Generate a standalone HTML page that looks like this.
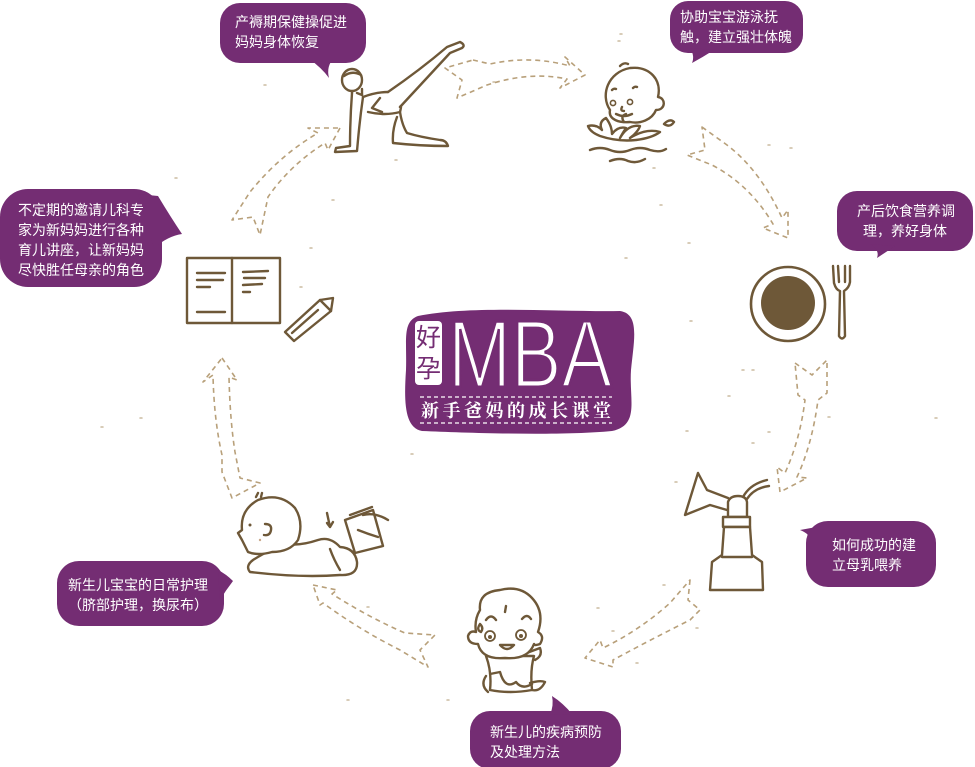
<!DOCTYPE html>
<html>
<head>
<meta charset="utf-8">
<style>
html,body{margin:0;padding:0;background:#fff;}
svg{display:block;}
.b{fill:#742d73;}
.t{fill:#fff;font-family:"Liberation Sans","Noto Sans CJK SC",sans-serif;font-size:14px;}
.ar{fill:none;stroke:#b8a07a;stroke-width:1.6;stroke-dasharray:5 4;stroke-linejoin:round;}
.ln{fill:none;stroke:#6e5838;stroke-width:2.4;stroke-linecap:round;stroke-linejoin:round;}
.lw{fill:#fff;stroke:#6e5838;stroke-width:2.4;stroke-linecap:round;stroke-linejoin:round;}
.sp{stroke:#cbbba0;stroke-width:1.5;stroke-linecap:round;}
</style>
</head>
<body>
<svg width="975" height="767" viewBox="0 0 975 767" xmlns="http://www.w3.org/2000/svg">

<!-- specks -->
<g class="sp">
<line x1="175" y1="178" x2="177" y2="178"/><line x1="332" y1="200" x2="334" y2="200"/><line x1="310" y1="248" x2="312" y2="248"/>
<line x1="101" y1="427" x2="103" y2="427"/><line x1="140" y1="418" x2="142" y2="418"/><line x1="411" y1="454" x2="413" y2="454"/>
<line x1="367" y1="607" x2="369" y2="607"/><line x1="347" y1="700" x2="349" y2="700"/><line x1="597" y1="608" x2="599" y2="608"/>
<line x1="612" y1="631" x2="614" y2="631"/><line x1="636" y1="663" x2="638" y2="663"/><line x1="675" y1="482" x2="677" y2="482"/>
<line x1="690" y1="321" x2="692" y2="321"/><line x1="742" y1="370" x2="744" y2="370"/><line x1="752" y1="370" x2="754" y2="370"/>
<line x1="728" y1="396" x2="730" y2="396"/><line x1="686" y1="431" x2="688" y2="431"/><line x1="752" y1="443" x2="754" y2="443"/>
<line x1="828" y1="417" x2="830" y2="417"/><line x1="935" y1="418" x2="937" y2="418"/><line x1="768" y1="432" x2="770" y2="432"/>
<line x1="768" y1="145" x2="770" y2="145"/><line x1="790" y1="148" x2="792" y2="148"/><line x1="653" y1="168" x2="655" y2="168"/>
<line x1="620" y1="34" x2="622" y2="34"/><line x1="618" y1="41" x2="620" y2="41"/><line x1="493" y1="82" x2="495" y2="82"/>
<line x1="264" y1="85" x2="266" y2="85"/><line x1="395" y1="160" x2="397" y2="160"/><line x1="660" y1="205" x2="662" y2="205"/>
<line x1="688" y1="243" x2="690" y2="243"/><line x1="625" y1="258" x2="627" y2="258"/><line x1="300" y1="287" x2="302" y2="287"/>
<line x1="447" y1="700" x2="449" y2="700"/><line x1="663" y1="585" x2="665" y2="585"/><line x1="696" y1="628" x2="698" y2="628"/>
</g>

<!-- dashed arrows -->
<path class="ar" d="M473,60 L490,64 Q530,55 570,66 L565,57 L585,75 L560,88 L567,79 Q530,71 487,85 L457,98 L462,80 L445,68 Z"/>
<path class="ar" d="M702,127 L727,145 Q760,170 782,218 L788,210 L788,238 L763,228 L773,224 Q750,185 712,165 L687,155 L705,150 Z"/>
<path class="ar" d="M795,363 L812,375 L827,360 L827,393 L818,400 Q812,445 797,477 L807,478 L780,492 L777,467 L785,473 Q800,440 805,400 L798,395 Z"/>
<path class="ar" d="M690,580 L688,600 L700,610 L690,620 Q650,640 613,660 L613,667 L585,658 L600,640 L603,648 Q640,630 670,603 Z"/>
<path class="ar" d="M313,585 L337,590 L332,594 Q370,618 405,633 L435,635 L420,650 L428,667 L400,650 Q360,630 323,603 L320,605 Z"/>
<path class="ar" d="M222,358 L237,380 L229,377 Q230,420 235,452 L240,478 L260,483 L232,498 L222,472 L222,455 Q214,420 213,375 L203,382 Z"/>
<path class="ar" d="M340,128 L328,150 L325,143 Q290,165 268,197 L260,235 L253,217 L232,220 L250,192 Q280,155 318,133 L308,128 Z"/>

<!-- bubbles -->
<rect class="b" x="220" y="3" width="146" height="60" rx="20"/>
<path class="b" d="M308,58 Q322,68 329,78 Q326,66 334,58 Z"/>
<text class="t" x="235" y="27">产褥期保健操促进</text>
<text class="t" x="235" y="47">妈妈身体恢复</text>

<rect class="b" x="670" y="1" width="133" height="52" rx="18"/>
<path class="b" d="M690,48 Q695,56 692,63 Q703,57 714,50 Z"/>
<text class="t" x="680" y="22">协助宝宝游泳抚</text>
<text class="t" x="680" y="42">触，建立强壮体魄</text>

<rect class="b" x="837" y="191" width="136" height="60" rx="20"/>
<path class="b" d="M870,244 Q880,250 877,258 Q886,252 895,246 Z"/>
<text class="t" x="857" y="216">产后饮食营养调</text>
<text class="t" x="863" y="236">理，养好身体</text>

<rect class="b" x="0" y="189" width="162" height="98" rx="28"/>
<path class="b" d="M138,194 L158,196 Q170,216 182,234 Q168,236 154,248 Z"/>
<text class="t" x="18" y="215">不定期的邀请儿科专</text>
<text class="t" x="18" y="235">家为新妈妈进行各种</text>
<text class="t" x="18" y="255">育儿讲座，让新妈妈</text>
<text class="t" x="18" y="275">尽快胜任母亲的角色</text>

<rect class="b" x="806" y="521" width="130" height="66" rx="22"/>
<path class="b" d="M800,530 Q810,534 810,540 L822,526 Z"/>
<text class="t" x="832" y="550">如何成功的建</text>
<text class="t" x="832" y="570">立母乳喂养</text>

<rect class="b" x="57" y="561" width="167" height="65" rx="22"/>
<path class="b" d="M218,570 Q226,574 233,581 Q226,590 220,600 Z"/>
<text class="t" x="68" y="590">新生儿宝宝的日常护理</text>
<text class="t" x="68" y="610">（脐部护理，换尿布）</text>

<rect class="b" x="470" y="711" width="151" height="58" rx="20"/>
<path class="b" d="M550,715 Q554,705 552,696 Q563,703 572,714 Z"/>
<text class="t" x="490" y="737">新生儿的疾病预防</text>
<text class="t" x="490" y="757">及处理方法</text>

<!-- center logo -->
<path class="b" d="M418,316 C470,305 560,312 620,311 C640,314 634,340 631,370 C629,400 640,425 612,431 C560,436 470,433 422,431 C404,428 404,400 406,370 C407,340 402,322 418,316 Z"/>
<rect x="415" y="321" width="27" height="64" rx="4" fill="#fff"/>
<text x="428.5" y="346" text-anchor="middle" fill="#742d73" font-family="'Noto Sans CJK SC',sans-serif" font-size="25">好</text>
<text x="428.5" y="377" text-anchor="middle" fill="#742d73" font-family="'Noto Sans CJK SC',sans-serif" font-size="25">孕</text>
<text x="448" y="387" textLength="164" lengthAdjust="spacingAndGlyphs" fill="#fff" stroke="#742d73" stroke-width="3" font-family="'Liberation Sans',sans-serif" font-size="96">MBA</text>
<line x1="420" y1="397" x2="612" y2="397" stroke="#fff" stroke-width="1.2" stroke-dasharray="4 3"/>
<line x1="420" y1="423" x2="612" y2="423" stroke="#fff" stroke-width="1.2" stroke-dasharray="4 3"/>
<text x="421" y="417" textLength="190" lengthAdjust="spacing" fill="#fff" font-weight="bold" font-family="'Noto Serif CJK SC','Noto Sans CJK SC',serif" font-size="18">新手爸妈的成长课堂</text>

<!-- yoga woman -->
<g>
<path class="ln" d="M388,92 Q420,70 447,47 L460,42 Q466,45 462,48 L450,53 Q425,80 400,107"/>
<path class="ln" d="M363,97 Q376,92 388,92"/>
<path class="ln" d="M368,112 Q385,116 400,112 Q402,104 400,107"/>
<path class="ln" d="M380,98 L372,108 L382,112"/>
<path class="ln" d="M397,117 Q392,130 393,143 Q420,146 448,146 Q446,140 440,140 Q420,137 407,133 Q402,125 400,112"/>
<path class="ln" d="M352,93 Q350,120 350,146 L336,148 L335,152 L357,151 L358,140 Q360,118 363,97"/>
<path class="ln" d="M357,93 L362,95"/>
<path class="ln" d="M352,88 L352,93 M362,89 L362,95"/>
<ellipse class="lw" cx="352" cy="80" rx="10" ry="11"/>
<path class="ln" d="M344,76 Q352,70 361,75"/>
</g>

<!-- swimming baby -->
<g>
<path class="lw" d="M610,110 C600,95 608,72 630,68 C650,66 662,80 658,97 C666,98 666,110 656,110 C652,120 640,124 630,122 C620,123 608,120 610,110 Z"/>
<path class="ln" d="M620,66 Q624,62 628,64" stroke-width="1.6"/>
<circle cx="613" cy="103" r="2.6" fill="none" stroke="#6e5838" stroke-width="1.6"/>
<circle cx="630" cy="102" r="2.6" fill="none" stroke="#6e5838" stroke-width="1.6"/>
<path class="ln" stroke-width="1.6" d="M622,107 Q620,111 624,111 M616,114 Q624,118 632,114 M612,90 Q614,88 616,89 M633,88 Q635,86 637,87"/>
<path class="lw" stroke-width="1.8" d="M600,136 Q590,132 588,126 Q596,124 602,130 Q598,122 606,118 Q612,126 612,134 Q618,126 626,128 Q622,134 620,138 Q628,124 640,126 Q638,132 630,138 Q646,128 660,132 Q652,138 636,140 Q618,142 600,136 Z"/>
<path class="ln" stroke-width="1.8" d="M664,124 Q670,118 674,122 Q670,128 664,124 Z M624,122 Q620,116 626,114"/>
<path class="ln" stroke-width="1.8" d="M590,150 Q600,146 610,150 Q620,154 630,150 Q640,146 650,150 Q660,153 666,149 M610,161 Q620,157 628,161 Q636,164 645,159"/>
</g>

<!-- plate and fork -->
<circle cx="788" cy="304" r="37" fill="#fff" stroke="#6e5838" stroke-width="2.6"/>
<circle cx="788" cy="303" r="27" fill="#6e5838"/>
<path class="ln" stroke-width="1.8" d="M833,266 L834,283 Q836,290 840,291 L839,336 Q842,341 845,336 L844,291 Q849,288 850,282 L850,266 M838,266 L839,282 M845,266 L845,282"/>

<!-- breast pump -->
<g>
<path class="ln" d="M698,473 L685,515 L710,505 L727,510 M698,473 L707,490 L728,498"/>
<path class="lw" d="M728,517 L728,502 Q730,496 738,496 Q746,496 747,502 L747,517 Z"/>
<rect class="lw" x="723" y="517" width="27" height="10"/>
<path class="lw" d="M724,527 L722,555 L712,562 L710,590 L763,590 L762,562 L752,555 L750,527 Z"/>
<path class="ln" d="M722,557 L752,557"/>
<path class="ln" d="M743,497 Q750,484 767,480 M747,499 Q754,488 769,486"/>
</g>

<!-- sick baby -->
<g>
<path class="lw" d="M486,656 Q492,672 490,690 Q510,694 532,690 Q530,670 534,656 Z"/>
<path class="ln" d="M490,674 L500,672 Q505,690 516,682 Q522,690 532,684 M520,655 Q530,652 540,648 Q543,656 535,660"/>
<path class="ln" d="M530,683 Q540,680 545,682 Q540,692 532,690 M486,676 Q480,685 488,692"/>
<path class="lw" d="M480,610 Q478,592 500,590 Q520,585 532,598 Q545,612 538,632 Q545,636 540,644 Q534,646 534,644 Q528,660 505,658 Q482,660 478,644 Q468,644 468,636 Q470,630 476,632 Q474,620 480,610 Z"/>
<circle cx="490" cy="636" r="5" fill="none" stroke="#6e5838" stroke-width="1.8"/>
<circle cx="521" cy="635" r="5" fill="none" stroke="#6e5838" stroke-width="1.8"/>
<circle cx="490" cy="637" r="2" fill="#6e5838"/><circle cx="521" cy="636" r="2" fill="#6e5838"/>
<path class="ln" stroke-width="1.8" d="M486,620 Q491,613 496,620 M522,619 Q527,613 531,619 M500,645 Q507,653 514,645 Z M506,606 L505,612 M480,624 Q476,630 481,632 Q484,628 480,624"/>
</g>

<!-- lying baby -->
<g>
<path class="lw" d="M253,560 Q245,566 250,572 Q300,578 340,575 Q358,576 357,562 Q355,548 340,547 Q330,536 318,540 Q300,546 288,544 Q272,548 253,560 Z"/>
<path class="ln" d="M330,549 Q334,560 340,570"/>
<path class="lw" d="M248,552 Q245,546 242,540 L238,533 L242,530 Q240,510 258,500 Q280,492 295,508 Q304,522 298,540 Q290,552 272,552 Q258,556 248,552 Z"/>
<path class="ln" stroke-width="1.8" d="M265,524 Q272,524 271,530 Q270,536 264,535 M256,497 L258,493 M261,497 L262,493"/>
<circle cx="250" cy="525" r="1.5" fill="#6e5838"/>
<circle cx="260" cy="540" r="1.2" fill="#c9a98a"/>
<path class="ln" stroke-width="1.8" d="M327,513 L330,527 M327,523 L330,527 L333,522"/>
<path class="lw" stroke-width="2" d="M345,520 L373,510 L383,546 L355,553 Z"/>
<path class="ln" stroke-width="2" d="M350,515 L372,507 M363,515 Q375,512 388,520 M358,530 Q368,534 378,537"/>
</g>

<!-- book and pencil -->
<g>
<rect class="lw" x="187" y="258" width="93" height="65"/>
<line class="ln" x1="232" y1="258" x2="232" y2="323"/>
<path class="ln" stroke-width="1.4" d="M197,273 L225,273 M197,280 L223,280 M197,287 L210,287 M197,312 L225,312 M243,272 L268,271 M244,278 L265,278 M243,285 L262,284 M243,292 L250,292"/>
<path class="lw" stroke-width="2" d="M285,332 L320,300 L333,298 L331,311 L294,341 Z"/>
<path class="ln" stroke-width="1.6" d="M320,300 L331,311 M292,333 L318,310"/>
</g>

</svg>
</body>
</html>
